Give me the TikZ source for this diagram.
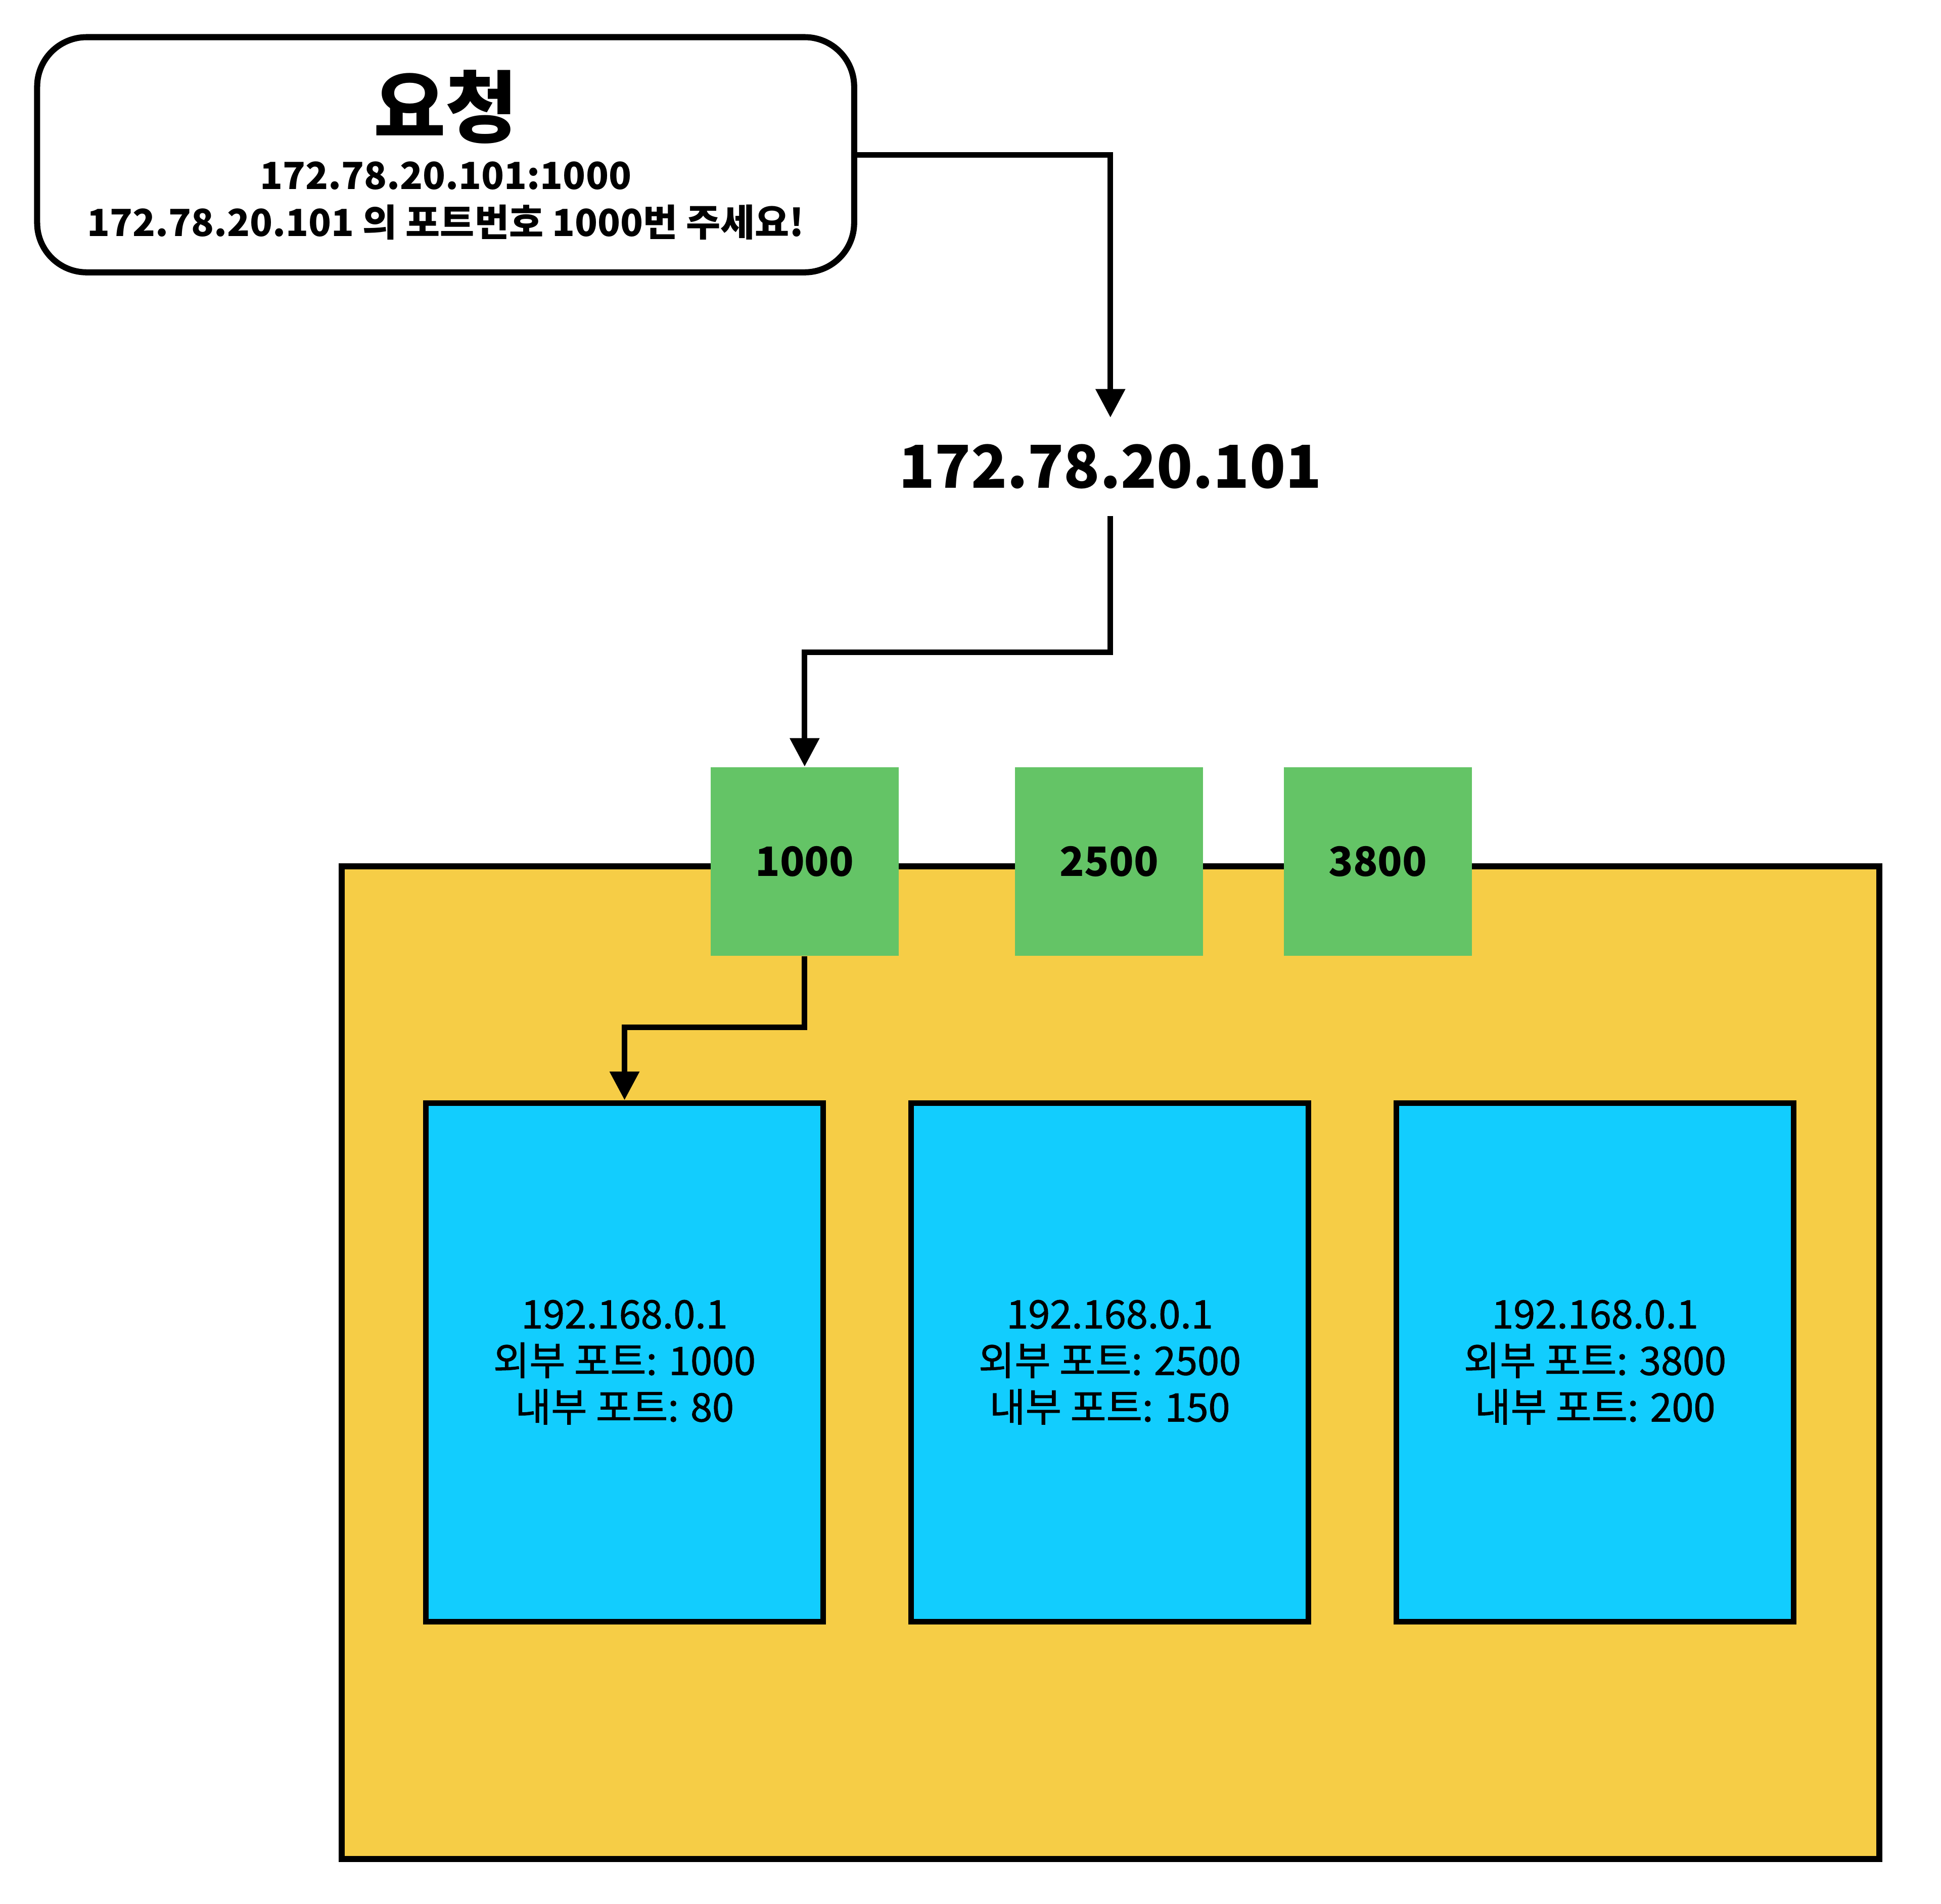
\documentclass[tikz,border=0pt]{standalone}
\usepackage{fontspec}
\setmainfont{Noto Sans CJK KR}
\newfontfamily\medfont{Noto Sans CJK KR}[FakeBold=1.2]
\usepackage{tikz}
\usetikzlibrary{arrows.meta}
\definecolor{NPGreen}{HTML}{64C466}
\definecolor{NPYellow}{HTML}{F6CD46}
\definecolor{NPBlue}{HTML}{12CDFE}

\begin{document}
\begin{tikzpicture}[x=1cm,y=-1cm,
  flow/.style={line width=1.3pt,-{Triangle[width=0.23cm,length=0.23cm]}},
  portbox/.style={fill=NPGreen,minimum size=1.52cm,inner sep=0pt,font=\fontsize{9.3}{11}\selectfont\bfseries},
  vmbox/.style={draw,line width=1.3pt,fill=NPBlue,minimum width=3.21cm,minimum height=4.19cm,align=center,font=\fontsize{9}{10.7}\medfont}]
\path[use as bounding box] (0,0) rectangle (15.68,15.38);
\node[draw,line width=1.4pt,rounded corners=0.4cm,minimum width=6.6cm,minimum height=1.9cm,align=center,font=\fontsize{8.6}{10.8}\selectfont\bfseries] (req) at (3.60,1.25) {{\fontsize{18}{21}\selectfont 요청}\\[1.4pt]172.78.20.101:1000\\172.78.20.101 의 포트번호 1000번 주세요!};
\node[font=\fontsize{13.6}{16}\selectfont\bfseries,minimum height=0.78cm,inner sep=0pt] (ip) at (8.97,3.77) {172.78.20.101};
\node[draw,line width=1.4pt,fill=NPYellow,minimum width=12.42cm,minimum height=8.02cm] (host) at (8.97,11.01) {};
\node[portbox] (p1000) at (6.50,6.96) {1000};
\node[portbox] (p2500) at (8.96,6.96) {2500};
\node[portbox] (p3800) at (11.13,6.96) {3800};
\node[vmbox] (vm1) at (5.045,11.005) {192.168.0.1\\외부 포트: 1000\\내부 포트: 80};
\node[vmbox] (vm2) at (8.965,11.005) {192.168.0.1\\외부 포트: 2500\\내부 포트: 150};
\node[vmbox] (vm3) at (12.885,11.005) {192.168.0.1\\외부 포트: 3800\\내부 포트: 200};
\draw[flow] (req.east) -| (ip.north);
\draw[flow] (ip.south) -- (ip.south |- 0,5.27) -| (p1000.north);
\draw[flow] (p1000.south) -- (p1000.south |- 0,8.30) -| (vm1.north);
\end{tikzpicture}
\end{document}
